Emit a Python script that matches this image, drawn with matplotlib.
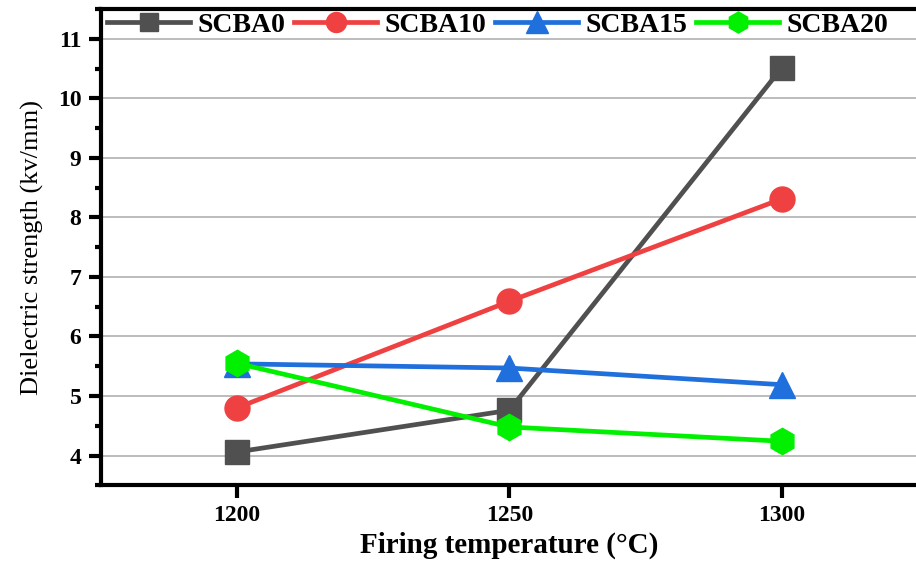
import matplotlib
matplotlib.use("Agg")
from matplotlib import pyplot as plt
from matplotlib.ticker import MultipleLocator

temps = [1200, 1250, 1300]
scba0 = [4.06, 4.76, 10.51]
scba10 = [4.80, 6.59, 8.31]
scba15 = [5.54, 5.47, 5.19]
scba20 = [5.55, 4.48, 4.24]

series = [
    ("SCBA0", scba0, "#505050", "s", 17),
    ("SCBA10", scba10, "#ef4141", "o", 18),
    ("SCBA15", scba15, "#1f6fdc", "^", 19),
    ("SCBA20", scba20, "#00f000", "h", 19),
]

plt.rcParams["font.family"] = ["Liberation Serif", "DejaVu Serif"]

fig = plt.figure(figsize=(9.16, 5.63), dpi=100)
ax = fig.add_axes([0.110, 0.138, 0.892, 0.846])

for name, values, color, marker, size in series:
    ax.plot(
        temps,
        values,
        color=color,
        marker=marker,
        markersize=size,
        linewidth=3.4,
        label=name,
        zorder=3,
    )

ax.set_xlim(1175, 1325)
ax.set_ylim(3.5, 11.5)
ax.set_xticks(temps)
ax.yaxis.set_major_locator(MultipleLocator(1))
ax.yaxis.set_minor_locator(MultipleLocator(0.5))
ax.set_yticks([4, 5, 6, 7, 8, 9, 10, 11])
ax.grid(True, axis="y", color="#b0b0b0", linewidth=1.2, zorder=0)

for side in ["left", "bottom", "top"]:
    ax.spines[side].set_linewidth(3)
ax.spines["right"].set_visible(False)
ax.tick_params(axis="both", which="major", direction="out", length=9, width=3,
               labelsize=17, pad=5)
ax.tick_params(axis="y", which="minor", direction="out", length=4, width=3)
for label in ax.get_xticklabels() + ax.get_yticklabels():
    label.set_fontweight("bold")

ax.set_xlabel("Firing temperature (°C)", fontsize=21, fontweight="bold", labelpad=4)
ax.set_ylabel("Dielectric strength (kv/mm)", fontsize=19, labelpad=10)

ax.legend(
    loc="upper left",
    bbox_to_anchor=(-0.006, 1.016),
    ncol=4,
    frameon=False,
    prop={"weight": "bold", "size": 20},
    handlelength=3.0,
    handletextpad=0.25,
    columnspacing=0.32,
    borderaxespad=0.0,
    markerscale=0.8,
)

fig.savefig("out.png", dpi=100)
